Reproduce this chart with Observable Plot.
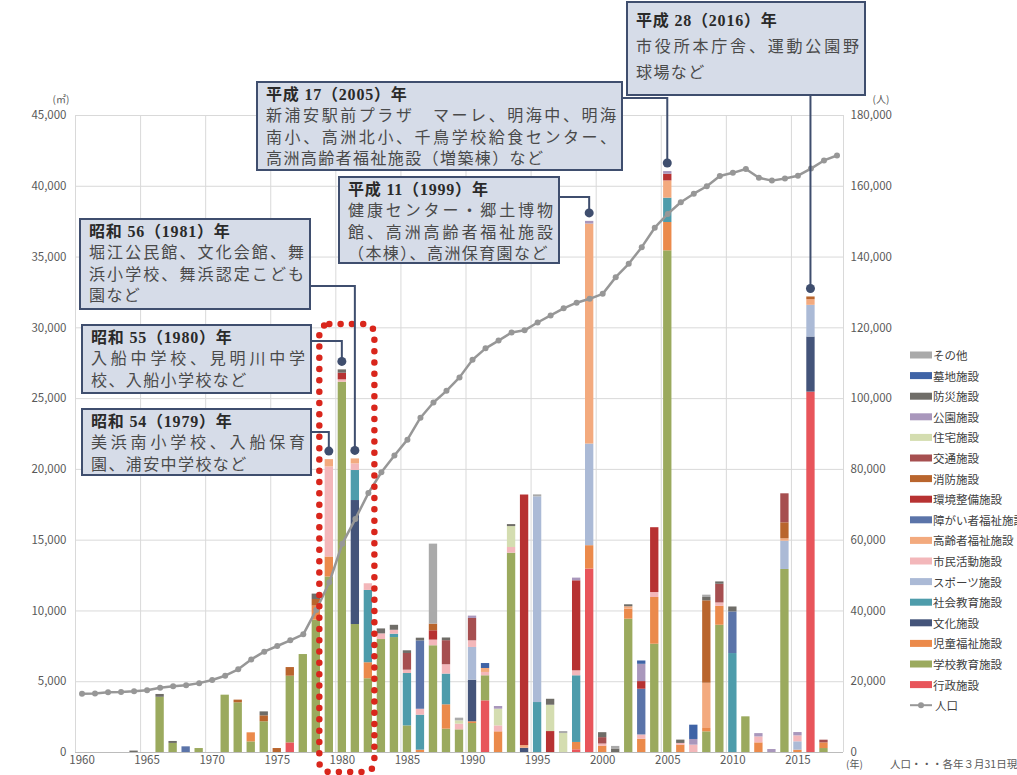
<!DOCTYPE html>
<html>
<head>
<meta charset="utf-8">
<script src="https://cdn.jsdelivr.net/npm/d3@7"></script>
<script src="https://cdn.jsdelivr.net/npm/@observablehq/plot@0.6"></script>
<style>
  html, body { margin: 0; padding: 0; background: #ffffff; }
  #chart { position: relative; width: 1017px; height: 775px; overflow: hidden; }
</style>
</head>
<body>
<div id="chart"></div>
<script>
// ---- Facility categories (stacking order, bottom to top) ----
const categories = [
  "行政施設", "学校教育施設", "児童福祉施設", "文化施設", "社会教育施設",
  "スポーツ施設", "市民活動施設", "高齢者福祉施設", "障がい者福祉施設", "環境整備施設",
  "消防施設", "交通施設", "住宅施設", "公園施設", "防災施設", "墓地施設", "その他"
];

// ---- Floor area built per year (㎡), one list per category: [year, area] ----
const gyosei = [[1976, 680], [1991, 3650], [1998, 190], [1999, 12960], [2016, 25460]];
const gakko = [[1966, 3900], [1967, 640], [1969, 280], [1971, 4050], [1972, 3510], [1973, 750],
  [1974, 2170], [1976, 4710], [1977, 6920], [1978, 9350], [1979, 12400], [1980, 26160],
  [1981, 9040], [1982, 5210], [1983, 7980], [1984, 8120], [1985, 1880], [1987, 7540],
  [1988, 1650], [1989, 1600], [1990, 2050], [1991, 1770], [1993, 14080], [2002, 9420],
  [2004, 7650], [2005, 35440], [2008, 1460], [2009, 8990], [2011, 2520], [2014, 12930], [2017, 280]];
const jido = [[1973, 640], [1978, 990], [1979, 1410], [1982, 1130], [1986, 165], [1988, 1720],
  [1990, 120], [1992, 1460], [1998, 520], [1999, 1650], [2000, 450], [2002, 710], [2003, 940],
  [2004, 3300], [2005, 2000], [2006, 520], [2008, 235], [2009, 1340], [2012, 680], [2015, 165], [2017, 400]];
const bunka = [[1981, 8760], [1990, 2940], [1994, 300], [2016, 3890]];
const shakai = [[1981, 2120], [1982, 5110], [1984, 235], [1985, 3700], [1986, 2470], [1988, 2170],
  [1995, 3530], [1998, 4710], [2005, 1720], [2010, 6990]];
const sports = [[1990, 2310], [1995, 14530], [1999, 7180], [2014, 2000], [2015, 590], [2016, 2240]];
const shimin = [[1979, 6360], [1980, 165], [1981, 470], [1982, 470], [1983, 400], [1984, 280],
  [1985, 235], [1986, 420], [1987, 400], [1988, 660], [1989, 400], [1990, 470], [1991, 235],
  [1992, 420], [1993, 400], [1998, 350], [2000, 150], [2003, 300], [2004, 350], [2006, 120],
  [2007, 520], [2009, 235], [2012, 420], [2015, 420]];
const koreisha = [[1979, 520], [1981, 350], [1991, 280], [1994, 190], [1999, 15540], [2002, 165],
  [2005, 1220], [2008, 3200], [2014, 165], [2016, 400]];
const shogaisha = [[1968, 400], [1986, 4830], [2003, 3230], [2010, 2940]];
const kankyo = [[1980, 470], [1987, 660], [1994, 17700], [1996, 1480], [1998, 6360], [2003, 540],
  [2004, 4580], [2005, 470]];
const shobo = [[1972, 190], [1974, 420], [1975, 280], [1976, 610], [1978, 470], [1987, 470],
  [2008, 5820], [2014, 1130], [2016, 190]];
const kotsu = [[1985, 1180], [1988, 1700], [1990, 1580], [2000, 450], [2009, 1320], [2014, 2050], [2017, 190]];
const jutaku = [[1989, 235], [1992, 1180], [1993, 1480], [1996, 1860], [1997, 1340]];
const koen = [[1990, 165], [1992, 190], [1998, 190], [1999, 190], [2003, 1220], [2005, 190],
  [2007, 400], [2012, 235], [2013, 210], [2015, 235]];
const bosai = [[1964, 100], [1966, 200], [1967, 140], [1974, 280], [1978, 380], [1980, 235],
  [1983, 350], [1984, 350], [1985, 190], [1986, 190], [1988, 190], [1993, 140], [1996, 420],
  [2000, 350], [2001, 250], [2002, 140], [2006, 235], [2008, 235], [2009, 165], [2010, 350]];
const bochi = [[1991, 350], [2003, 235], [2007, 1010]];
const sonota = [[1987, 5650], [1989, 190], [1995, 140], [1997, 140], [2001, 180], [2008, 165]];

const seriesValues = [gyosei, gakko, jido, bunka, shakai, sports, shimin, koreisha, shogaisha,
  kankyo, shobo, kotsu, jutaku, koen, bosai, bochi, sonota];

// ---- Population on 31 March of each year (人), 1960–2018 ----
const popYears = d3.range(1960, 2019);
const population = [
  16600, 16700, 17000, 17100, 17300, 17600, 18300, 18700, 19000, 19600,
  20500, 21700, 23500, 26300, 28500, 30100, 31700, 33400, 40300, 48100,
  59000, 66000, 73300, 79200, 83900, 88400, 94600, 98900, 102200, 106000,
  111000, 114200, 116400, 118700, 119300, 121500, 123500, 125500, 127100, 128200,
  129600, 134300, 138100, 142800, 148300, 152200, 155500, 157900, 160000, 162900,
  163800, 164900, 162400, 161600, 162200, 163000, 165000, 167300, 168700
];

// ---- Axis ticks ----
const areaTicks = d3.range(0, 45001, 5000);
const yearTicks = d3.range(1960, 2016, 5);

// ---- Callout notes ----
const callouts = [
  {year: 1979, title: "昭和 54（1979）年", lines: ["美浜南小学校、入船保育", "園、浦安中学校など"]},
  {year: 1980, title: "昭和 55（1980）年", lines: ["入船中学校、見明川中学", "校、入船小学校など"]},
  {year: 1981, title: "昭和 56（1981）年", lines: ["堀江公民館、文化会館、舞", "浜小学校、舞浜認定こども", "園など"]},
  {year: 1999, title: "平成 11（1999）年", lines: ["健康センター・郷土博物", "館、高洲高齢者福祉施設", "（本棟）、高洲保育園など"]},
  {year: 2005, title: "平成 17（2005）年", lines: ["新浦安駅前プラザ　マーレ、明海中、明海", "南小、高洲北小、千鳥学校給食センター、", "高洲高齢者福祉施設（増築棟）など"]},
  {year: 2016, title: "平成 28（2016）年", lines: ["市役所本庁舎、運動公園野", "球場など"]}
];
const highlightYears = [1979, 1981];

// ---- Styling / layout ----
const colors = ["#E8555B", "#9BAA5E", "#EB8A4B", "#44547A", "#4E9CAB", "#ABBAD6", "#F3B7BA",
  "#F3AA7E", "#5B74A9", "#B73232", "#B9652D", "#A64F50", "#D4DDB0", "#A997BC", "#6F6D68",
  "#3F63A6", "#AAAAAA"];
const popRatio = 4; // right axis (人) is 4× the left axis (㎡)
const boxLayout = {
  1979: {left: 82, top: 409, width: 229, height: 66, exit: "right", exitY: 432},
  1980: {left: 82, top: 325, width: 229, height: 68, exit: "right", exitY: 341},
  1981: {left: 80, top: 219, width: 230, height: 90, exit: "right", exitY: 286},
  1999: {left: 339, top: 177, width: 220, height: 86, exit: "right", exitY: 197},
  2005: {left: 257, top: 82, width: 365, height: 88, exit: "right", exitY: 98},
  2016: {left: 627, top: 2, width: 238, height: 93, exit: "bottom", first: 18, step: 26}
};

// ---- Stack the segments ----
const segments = [];
const totals = new Map();
categories.forEach((cat, i) => {
  for (const [year, value] of seriesValues[i]) {
    const y1 = totals.get(year) || 0;
    segments.push({year, cat, y1, y2: y1 + value});
    totals.set(year, y1 + value);
  }
});
const popRows = popYears.map((year, i) => ({year, pop: population[i]}));
const gridYears = [...d3.range(1959.5, 2018, 5), 2018.5];

const fmt = d3.format(",");
const chart = Plot.plot({
  width: 1017,
  height: 775,
  marginLeft: 75,
  marginRight: 174,
  marginTop: 115,
  marginBottom: 23,
  style: {fontFamily: "'Noto Sans CJK JP', 'Noto Sans', sans-serif", fontSize: "11.5px", color: "#595959", background: "#ffffff"},
  x: {domain: [1959.5, 2018.5], axis: null, label: null},
  y: {domain: [0, 45000], axis: null, label: null},
  color: {domain: categories, range: colors},
  marks: [
    Plot.gridY(areaTicks, {stroke: "#d9d9d9", strokeOpacity: 1}),
    Plot.ruleX(gridYears, {y1: 0, y2: 45000, stroke: "#d9d9d9", strokeOpacity: 1}),
    Plot.rect(segments, {x1: d => d.year - 0.32, x2: d => d.year + 0.32, y1: "y1", y2: "y2", fill: "cat"}),
    Plot.ruleY([0], {stroke: "#bcbcbc"}),
    Plot.line(popRows, {x: "year", y: d => d.pop / popRatio, stroke: "#979797", strokeWidth: 2.5}),
    Plot.dot(popRows, {x: "year", y: d => d.pop / popRatio, r: 3, fill: "#979797"}),
    Plot.axisY(areaTicks, {anchor: "left", tickSize: 0, tickPadding: 9, tickFormat: fmt, label: null}),
    Plot.axisY(areaTicks, {anchor: "right", tickSize: 0, tickPadding: 7, tickFormat: d => fmt(d * popRatio), label: null}),
    Plot.axisX(yearTicks, {anchor: "bottom", tickSize: 0, tickPadding: 3, tickFormat: d => String(d), label: null})
  ]
});
document.getElementById("chart").appendChild(chart);

// ---- Overlays drawn with the chart's own scales ----
const xs = chart.scale("x"), ys = chart.scale("y");
const X = v => xs.apply(v), Y = v => ys.apply(v);
const svg = d3.select(chart);
const overlay = svg.append("g").attr("text-anchor", "start");

// unit labels
const unitStyle = g => g.attr("font-family", "'Noto Sans CJK JP', sans-serif").attr("font-size", 10).attr("fill", "#595959");
overlay.append("text").call(unitStyle).attr("x", X(1959.5) - 14).attr("y", Y(45000) - 12).attr("text-anchor", "middle").text("(㎡)");
overlay.append("text").call(unitStyle).attr("x", X(2018.5) + 38).attr("y", Y(45000) - 12).attr("text-anchor", "middle").text("(人)");
overlay.append("text").call(unitStyle).attr("x", X(2018.5) + 3).attr("y", Y(0) + 16).text("(年)");
overlay.append("text").call(unitStyle).attr("font-size", 10.5).attr("x", X(2018.5) + 47).attr("y", Y(0) + 16).text("人口・・・各年３月31日現在");

// dotted highlight around the early-1980s construction peak
overlay.append("rect")
  .attr("x", X(highlightYears[0] - 0.5) - 3)
  .attr("width", X(highlightYears[1] + 1.5) - X(highlightYears[0] - 0.5) + 3)
  .attr("y", 324)
  .attr("height", 448)
  .attr("rx", 10)
  .attr("fill", "none")
  .attr("stroke", "#D9261C")
  .attr("stroke-width", 6.5)
  .attr("stroke-linecap", "round")
  .attr("stroke-dasharray", "0 11.3");

// callout boxes with elbow connectors to the bar tops
const ink = "#3F4E6E";
for (const c of callouts) {
  const b = boxLayout[c.year];
  const cx = X(c.year);
  const dotY = Y(totals.get(c.year)) - 8;
  const path = b.exit === "right"
    ? `M${b.left + b.width},${b.exitY}H${cx}V${dotY}`
    : `M${cx},${b.top + b.height}V${dotY}`;
  overlay.append("path").attr("d", path).attr("fill", "none").attr("stroke", ink).attr("stroke-width", 2);
  overlay.append("circle").attr("cx", cx).attr("cy", dotY).attr("r", 4.5).attr("fill", ink);
  overlay.append("rect")
    .attr("x", b.left).attr("y", b.top).attr("width", b.width).attr("height", b.height)
    .attr("fill", "#D6DCE8").attr("stroke", ink).attr("stroke-width", 2);
  const first = b.first || 12.5, step = b.step || 21.3;
  const font = "'Liberation Serif', 'Noto Sans CJK JP', serif";
  overlay.append("text")
    .attr("x", b.left + 9).attr("y", b.top + first)
    .attr("dominant-baseline", "central")
    .attr("font-family", font).attr("font-size", 16).attr("font-weight", "bold")
    .attr("letter-spacing", 0.8)
    .attr("fill", "#2a2a2a").text(c.title);
  c.lines.forEach((line, i) => {
    const t = overlay.append("text")
      .attr("x", b.left + 9).attr("y", b.top + first + step * (i + 1))
      .attr("dominant-baseline", "central")
      .attr("font-family", font).attr("font-size", 16)
      .attr("fill", "#4a4a4a").text(line);
    if (i < c.lines.length - 1) {
      t.attr("textLength", b.width - 15).attr("lengthAdjust", "spacing");
    } else {
      t.attr("letter-spacing", 1.4);
    }
  });
}

// legend (top entry is the top of the stack), then the population line
const legend = overlay.append("g").attr("font-family", "'Noto Sans CJK JP', sans-serif").attr("font-size", 11.5).attr("fill", "#404040");
const legendCats = categories.slice().reverse();
const legendTop = 355, legendStep = 20.6, swX = 910;
legendCats.forEach((cat, i) => {
  const y = legendTop + legendStep * i;
  legend.append("rect").attr("x", swX).attr("y", y - 3.5).attr("width", 22).attr("height", 7)
    .attr("fill", colors[categories.indexOf(cat)]);
  legend.append("text").attr("x", swX + 23).attr("y", y).attr("dominant-baseline", "central").text(cat);
});
{
  const y = legendTop + legendStep * legendCats.length;
  legend.append("line").attr("x1", swX).attr("x2", swX + 22).attr("y1", y).attr("y2", y)
    .attr("stroke", "#979797").attr("stroke-width", 2);
  legend.append("circle").attr("cx", swX + 11).attr("cy", y).attr("r", 3).attr("fill", "#979797");
  legend.append("text").attr("x", swX + 25).attr("y", y).attr("dominant-baseline", "central").text("人口");
}
</script>
</body>
</html>
